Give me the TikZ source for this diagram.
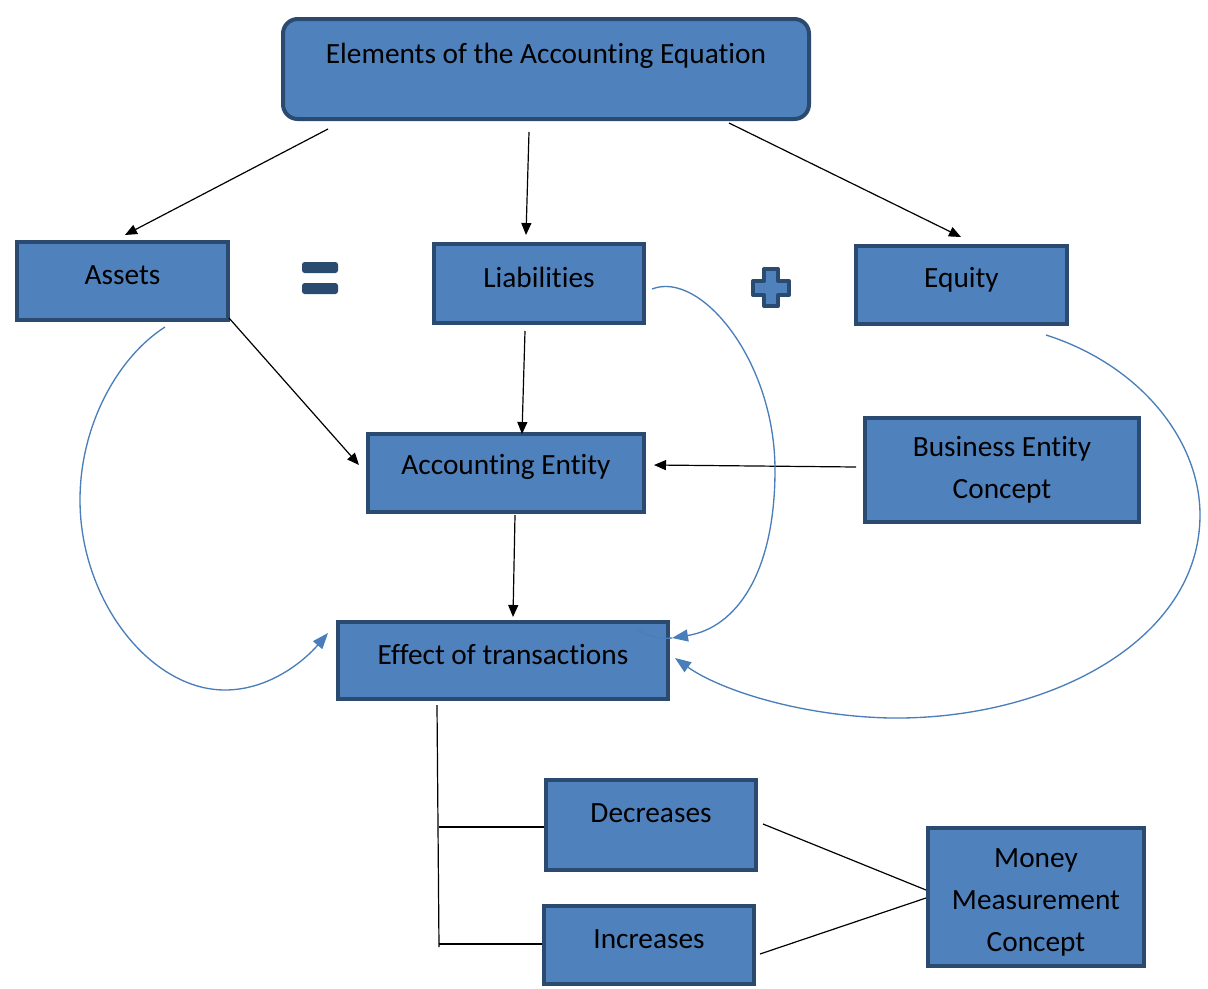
\documentclass[tikz,border=0pt]{standalone}
\usepackage{fontspec}
\setmainfont[Ligatures=NoCommon]{Carlito}
\usetikzlibrary{arrows.meta}
\definecolor{boxfill}{HTML}{4F81BD}
\definecolor{boxline}{HTML}{2A4A70}
\definecolor{curveblue}{HTML}{4A7EBB}
\begin{document}
\begin{tikzpicture}[x=0.75pt,y=-0.75pt,
  box/.style={draw=boxline,fill=boxfill,line width=3pt,inner sep=0pt},
  txt/.style={font=\fontsize{22}{31.5}\selectfont,align=center,inner sep=0pt,text=black},
  arr/.style={-{Triangle[length=9pt,width=7.5pt]},line width=0.9pt,black},
  plain/.style={line width=0.9pt,black},
  barc/.style={-{Triangle[length=12pt,width=9pt]},line width=1pt,curveblue}]
\useasboundingbox (0,0) rectangle (1208,989);
% boxes
\node[box,rounded corners=11pt,minimum width=394.5pt,minimum height=75pt] (top) at (546,69) {};
\node[box,minimum width=158.25pt,minimum height=58.5pt] (assets) at (122.5,281) {};
\node[box,minimum width=157.5pt,minimum height=59.25pt] (liab) at (539,283.5) {};
\node[box,minimum width=158.25pt,minimum height=58.5pt] (equity) at (961.5,285) {};
\node[box,minimum width=207pt,minimum height=58.5pt] (acct) at (506,473) {};
\node[box,minimum width=205.5pt,minimum height=78pt] (bus) at (1002,470) {};
\node[box,minimum width=247.5pt,minimum height=57.75pt] (eff) at (503,660.5) {};
\node[box,minimum width=157.5pt,minimum height=67.5pt] (dec) at (651,825) {};
\node[box,minimum width=157.5pt,minimum height=58.5pt] (inc) at (649,945) {};
\node[box,minimum width=162pt,minimum height=103.5pt] (money) at (1036,897) {};
% texts
\node[txt] (ttop) at (546,56) {Elements of the Accounting Equation};
\node[txt] (tassets) at (122.5,275) {Assets};
\node[txt] (tliab) at (539,277) {Liabilities};
\node[txt] (tequity) at (961.5,280) {Equity};
\node[txt] (tacct) at (506,467) {Accounting Entity};
\node[txt] (tbus) at (1002,470) {Business Entity\\Concept};
\node[txt] (teff) at (503,655) {Effect of transactions};
\node[txt] (tdec) at (651,813) {Decreases};
\node[txt] (tinc) at (649,939) {Increases};
\node[txt] (tmoney) at (1036,902) {Money\\Measurement\\Concept};
% equals sign
\fill[boxline,rounded corners=2pt] (302,262) rectangle (338,273);
\fill[boxline,rounded corners=2pt] (302,283) rectangle (338,294);
% plus sign
\draw[boxline,fill=boxfill,line width=3pt,line join=round]
  (764,269) -- (778,269) -- (778,281) -- (789,281) -- (789,295) -- (778,295) -- (778,306)
  -- (764,306) -- (764,295) -- (753,295) -- (753,281) -- (764,281) -- cycle;
% connector coordinates
\coordinate (a1) at (328,129); \coordinate (a1e) at (125,235);
\coordinate (a2) at (529,132); \coordinate (a2e) at (526,235);
\coordinate (a3) at (729,123); \coordinate (a3e) at (961,237);
\coordinate (a4) at (229,318); \coordinate (a4e) at (359,465);
\coordinate (a5) at (525,331); \coordinate (a5e) at (522,434);
\coordinate (a6) at (856,467); \coordinate (a6e) at (654,465);
\coordinate (a7) at (515,515); \coordinate (a7e) at (513,617);
\coordinate (v1) at (437,705); \coordinate (v2) at (439,947);
\coordinate (h1) at (439,827); \coordinate (h2) at (439,944);
\coordinate (d1) at (763,824); \coordinate (i1) at (760,954);
\coordinate (m1) at (926,890); \coordinate (m2) at (926,898);
% black arrows
\draw[arr] (a1) -- (a1e);
\draw[arr] (a2) -- (a2e);
\draw[arr] (a3) -- (a3e);
\draw[arr] (a4) -- (a4e);
\draw[arr] (a5) -- (a5e);
\draw[arr] (a6) -- (a6e);
\draw[arr] (a7) -- (a7e);
% lines
\draw[plain] (v1) -- (v2);
\draw[plain] (h1) -- (dec.west|-h1);
\draw[plain] (h2) -- (inc.west|-h2);
\draw[plain] (d1) -- (m1);
\draw[plain] (i1) -- (m2);
% blue curves
\coordinate (c1s) at (165,327); \coordinate (c1e) at (328,633);
\coordinate (c2s) at (652,289); \coordinate (c2e) at (672,638);
\coordinate (c3s) at (1046,335); \coordinate (c3e) at (675,658);
\draw[barc] (c1s) .. controls (118,357) and (80,425) .. (80,500)
  .. controls (80,600) and (150,690) .. (225,690)
  .. controls (270,690) and (305,660) .. (c1e);
\draw[barc] (c2s) .. controls (700,270) and (775,360) .. (775,470)
  .. controls (775,575) and (735,628) .. (c2e);
\draw[barc] (c3s) .. controls (1140,365) and (1200,440) .. (1200,515)
  .. controls (1200,640) and (1050,720) .. (890,718)
  .. controls (800,716) and (720,690) .. (c3e);
\draw[curveblue,line width=1pt] (638,630) .. controls (650,637) and (660,639) .. (c2e);
\end{tikzpicture}
\end{document}
